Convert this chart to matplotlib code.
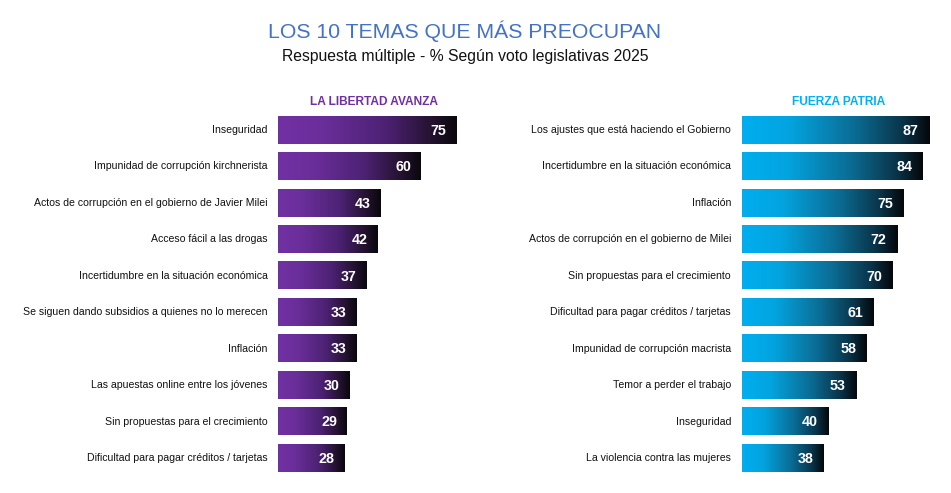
import matplotlib
matplotlib.use("Agg")
import matplotlib.pyplot as plt
import numpy as np
from matplotlib.colors import LinearSegmentedColormap

plt.rcParams['font.family'] = ['Liberation Sans', 'DejaVu Sans']

title = "LOS 10 TEMAS QUE MÁS PREOCUPAN"
subtitle = "Respuesta múltiple - % Según voto legislativas 2025"

lla_name = "LA LIBERTAD AVANZA"
lla_cats = ["Inseguridad",
            "Impunidad de corrupción kirchnerista",
            "Actos de corrupción en el gobierno de Javier Milei",
            "Acceso fácil a las drogas",
            "Incertidumbre en la situación económica",
            "Se siguen dando subsidios a quienes no lo merecen",
            "Inflación",
            "Las apuestas online entre los jóvenes",
            "Sin propuestas para el crecimiento",
            "Dificultad para pagar créditos / tarjetas"]
lla_vals = [75, 60, 43, 42, 37, 33, 33, 30, 29, 28]

fp_name = "FUERZA PATRIA"
fp_cats = ["Los ajustes que está haciendo el Gobierno",
           "Incertidumbre en la situación económica",
           "Inflación",
           "Actos de corrupción en el gobierno de Milei",
           "Sin propuestas para el crecimiento",
           "Dificultad para pagar créditos / tarjetas",
           "Impunidad de corrupción macrista",
           "Temor a perder el trabajo",
           "Inseguridad",
           "La violencia contra las mujeres"]
fp_vals = [87, 84, 75, 72, 70, 61, 58, 53, 40, 38]

W, H = 951, 493
fig = plt.figure(figsize=(W / 100, H / 100), dpi=100)
fig.patch.set_facecolor("white")

purple = "#7030A0"
cyan = "#00B0F0"
cmap_p = LinearSegmentedColormap.from_list("p", [(0, "#7131A3"), (0.25, "#6a2e9a"), (0.6, "#4d2274"), (0.85, "#261332"), (1, "#0a080c")])
cmap_c = LinearSegmentedColormap.from_list("c", [(0, "#00AEEF"), (0.25, "#03a4e0"), (0.6, "#0b6c94"), (0.85, "#0a354a"), (1, "#05070a")])

def px_axes(x0, y_top, w, h):
    return fig.add_axes([x0 / W, 1 - (y_top + h) / H, w / W, h / H])

def panel(ax, cats, vals, cmap, xmax, scale):
    n = len(vals)
    ax.set_xlim(0, xmax)
    ax.set_ylim(n - 0.5, -0.5)
    ax.axis("off")
    bh = 0.75
    grad = np.linspace(0, 1, 256).reshape(1, -1)
    for i, (c, v) in enumerate(zip(cats, vals)):
        ax.imshow(grad, cmap=cmap, aspect="auto",
                  extent=(0, v, i + bh / 2, i - bh / 2), interpolation="bilinear", zorder=2)
        ax.text(-10.5 / scale, i, c, ha="right", va="center", fontsize=7.58, color="#111111", clip_on=False)
        ax.text(v - 10 / scale, i + 0.02, str(v), ha="right", va="center", fontsize=10.3,
                fontweight="bold", color="white", zorder=3)
    ax.set_xlim(0, xmax)
    ax.set_ylim(n - 0.5, -0.5)

# left panel: bars from x=278.3, scale 2.379 px/unit
axL = px_axes(278.3, 111.8, 90 * 2.379, 364.4)
panel(axL, lla_cats, lla_vals, cmap_p, 90, 2.379)
# right panel: bars from x=741.5, scale 2.153 px/unit
axR = px_axes(741.5, 111.8, 97 * 2.153, 364.4)
panel(axR, fp_cats, fp_vals, cmap_c, 97, 2.153)

fig.text(465 / W, 1 - 31 / H, title, ha="center", va="center", fontsize=15.3, color="#4472C4")
fig.text(465 / W, 1 - 57 / H, subtitle, ha="center", va="center", fontsize=11.3, color="#111111")
fig.text(374 / W, 1 - 102 / H, lla_name, ha="center", va="center", fontsize=8.6,
         fontweight="bold", color=purple)
fig.text(839 / W, 1 - 102 / H, fp_name, ha="center", va="center", fontsize=8.6,
         fontweight="bold", color=cyan)

fig.savefig("out.png", dpi=100, facecolor="white")
